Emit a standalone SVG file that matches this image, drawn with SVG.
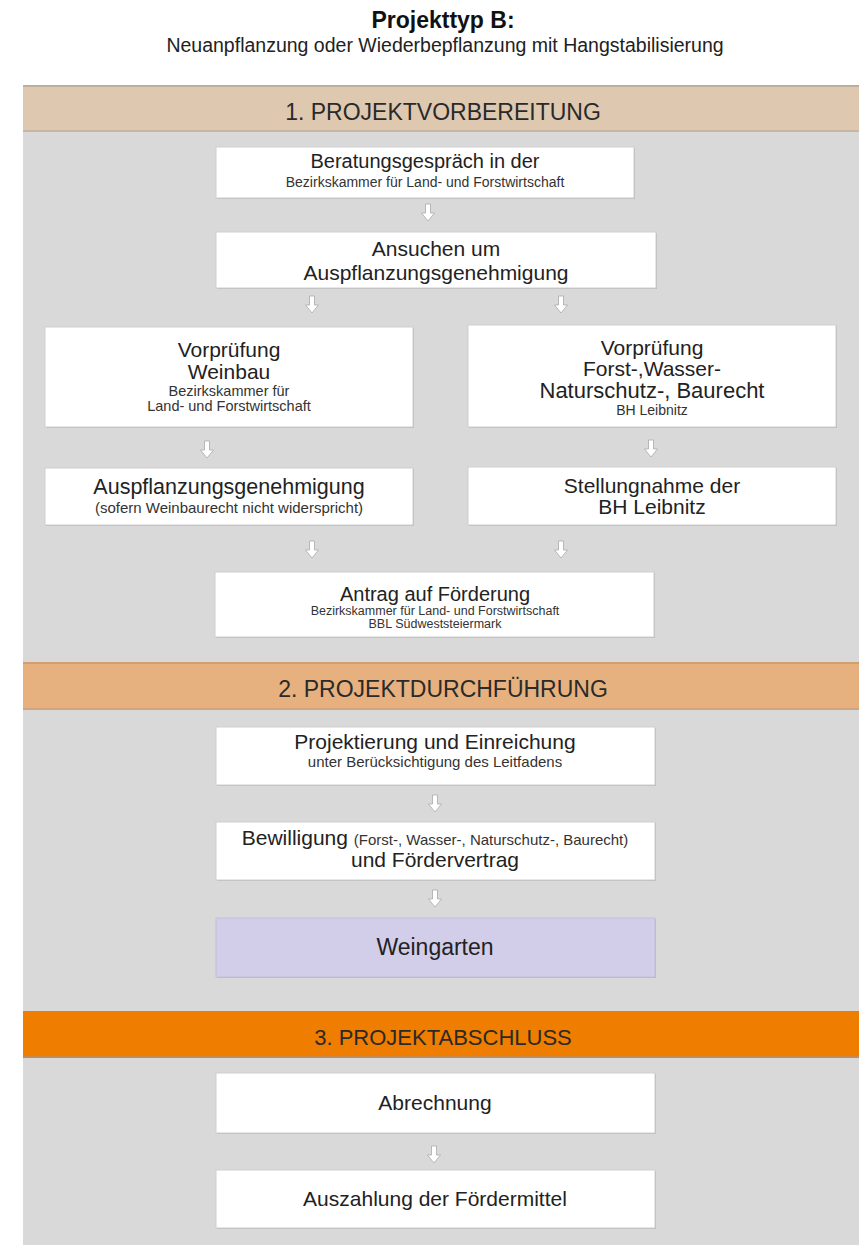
<svg xmlns="http://www.w3.org/2000/svg" width="859" height="1245" viewBox="0 0 859 1245">
<defs>
<style>
text{font-family:"Liberation Sans",Arial,sans-serif;text-anchor:middle;fill:#222}
.bx{fill:#fff;stroke:#cfcfcf;stroke-width:1}
.sh{fill:#b9b9b9}
.m{font-size:21px}
.s{font-size:15px;fill:#333}
.xs{font-size:13px;fill:#333}
.band{font-size:23px;fill:#2a2a2a}
.arr{fill:#fff;stroke:#a9a9a9;stroke-width:0.8}
</style>
<path id="ar" d="M-2.5,0 H2.5 V9 H6.5 L0,17 L-6.5,9 H-2.5 Z"/>
</defs>
<rect width="859" height="1245" fill="#fff"/>
<g id="title">
<text x="443" y="28" style="font-size:23px;font-weight:bold;fill:#111">Projekttyp B:</text>
<text x="445" y="52" style="font-size:19.5px;fill:#222">Neuanpflanzung oder Wiederbepflanzung mit Hangstabilisierung</text>
</g>
<rect x="23" y="86" width="836" height="1159" fill="#d9d9d9"/>
<g id="band1">
<rect x="23" y="86" width="836" height="45" fill="#dfc8b0"/>
<rect x="23" y="85" width="836" height="2" fill="#bfae9c"/>
<rect x="23" y="130" width="836" height="2" fill="#c7b6a4"/>
<text class="band" x="443" y="120">1. PROJEKTVORBEREITUNG</text>
</g>
<g id="band2">
<rect x="23" y="663" width="836" height="46" fill="#e6b17f"/>
<rect x="23" y="662" width="836" height="2" fill="#d39e6e"/>
<rect x="23" y="708" width="836" height="2" fill="#cfa47e"/>
<text class="band" x="443" y="697">2. PROJEKTDURCHFÜHRUNG</text>
</g>
<g id="band3">
<rect x="23" y="1011" width="836" height="46" fill="#ee7d00"/>
<rect x="23" y="1056" width="836" height="2" fill="#c98a52"/>
<text class="band" x="443" y="1045" style="font-size:22px">3. PROJEKTABSCHLUSS</text>
</g>
<g id="connectors">
<use href="#ar" class="arr" x="428" y="204"/>
<use href="#ar" class="arr" x="312" y="296"/>
<use href="#ar" class="arr" x="561" y="296"/>
<use href="#ar" class="arr" x="207" y="441"/>
<use href="#ar" class="arr" x="651" y="440"/>
<use href="#ar" class="arr" x="312" y="541"/>
<use href="#ar" class="arr" x="561" y="541"/>
<use href="#ar" class="arr" x="435" y="795"/>
<use href="#ar" class="arr" x="435" y="890"/>
<use href="#ar" class="arr" x="434" y="1146"/>
</g>
<g id="n-beratung">
<rect class="sh" x="217" y="148" width="418" height="51"/>
<rect class="bx" x="216" y="147" width="418" height="51"/>
<text class="m" x="425" y="168" style="font-size:20px">Beratungsgespräch in der</text>
<text x="425" y="187" style="font-size:14px;fill:#333">Bezirkskammer für Land- und Forstwirtschaft</text>
</g>
<g id="n-ansuchen">
<rect class="sh" x="217" y="233" width="440" height="56"/>
<rect class="bx" x="216" y="232" width="440" height="56"/>
<text class="m" x="436" y="256">Ansuchen um</text>
<text class="m" x="436" y="280">Auspflanzungsgenehmigung</text>
</g>
<g id="n-vorpruefung-weinbau">
<rect class="sh" x="46" y="328" width="368" height="100"/>
<rect class="bx" x="45" y="327" width="368" height="100"/>
<text class="m" x="229" y="357">Vorprüfung</text>
<text class="m" x="229" y="379">Weinbau</text>
<text class="s" x="229" y="396" style="font-size:14.5px">Bezirkskammer für</text>
<text class="s" x="229" y="411" style="font-size:14.5px">Land- und Forstwirtschaft</text>
</g>
<g id="n-vorpruefung-recht">
<rect class="sh" x="469" y="326" width="368" height="102"/>
<rect class="bx" x="468" y="325" width="368" height="102"/>
<text class="m" x="652" y="355">Vorprüfung</text>
<text class="m" x="652" y="376">Forst-,Wasser-</text>
<text class="m" x="652" y="398" style="font-size:22px">Naturschutz-, Baurecht</text>
<text class="xs" x="652" y="415" style="font-size:14px">BH Leibnitz</text>
</g>
<g id="n-auspflanzung">
<rect class="sh" x="46" y="469" width="368" height="57"/>
<rect class="bx" x="45" y="468" width="368" height="57"/>
<text class="m" x="229" y="494" style="font-size:21.5px">Auspflanzungsgenehmigung</text>
<text class="s" x="229" y="513">(sofern Weinbaurecht nicht widerspricht)</text>
</g>
<g id="n-stellungnahme">
<rect class="sh" x="469" y="468" width="368" height="58"/>
<rect class="bx" x="468" y="467" width="368" height="58"/>
<text class="m" x="652" y="493">Stellungnahme der</text>
<text class="m" x="652" y="514">BH Leibnitz</text>
</g>
<g id="n-antrag">
<rect class="sh" x="216" y="573" width="439" height="65"/>
<rect class="bx" x="215" y="572" width="439" height="65"/>
<text class="m" x="435" y="601" style="font-size:20px">Antrag auf Förderung</text>
<text x="435" y="615" style="font-size:12.5px;fill:#333">Bezirkskammer für Land- und Forstwirtschaft</text>
<text x="435" y="628" style="font-size:12.5px;fill:#333">BBL Südweststeiermark</text>
</g>
<g id="n-projektierung">
<rect class="sh" x="217" y="728" width="439" height="58"/>
<rect class="bx" x="216" y="727" width="439" height="58"/>
<text class="m" x="435" y="749">Projektierung und Einreichung</text>
<text class="s" x="435" y="767">unter Berücksichtigung des Leitfadens</text>
</g>
<g id="n-bewilligung">
<rect class="sh" x="217" y="823" width="439" height="58"/>
<rect class="bx" x="216" y="822" width="439" height="58"/>
<text x="435" y="845"><tspan style="font-size:21px">Bewilligung </tspan><tspan style="font-size:15px;fill:#333">(Forst-, Wasser-, Naturschutz-, Baurecht)</tspan></text>
<text class="m" x="435" y="867">und Fördervertrag</text>
</g>
<g id="n-weingarten">
<rect class="sh" x="217" y="919" width="439" height="59"/>
<rect x="216" y="918" width="439" height="59" fill="#d2cde9" stroke="#c4c0d8" stroke-width="1"/>
<text x="435" y="955" style="font-size:23px">Weingarten</text>
</g>
<g id="n-abrechnung">
<rect class="sh" x="217" y="1074" width="439" height="60"/>
<rect class="bx" x="216" y="1073" width="439" height="60"/>
<text class="m" x="435" y="1110">Abrechnung</text>
</g>
<g id="n-auszahlung">
<rect class="sh" x="217" y="1171" width="439" height="58"/>
<rect class="bx" x="216" y="1170" width="439" height="58"/>
<text class="m" x="435" y="1206">Auszahlung der Fördermittel</text>
</g>
</svg>
